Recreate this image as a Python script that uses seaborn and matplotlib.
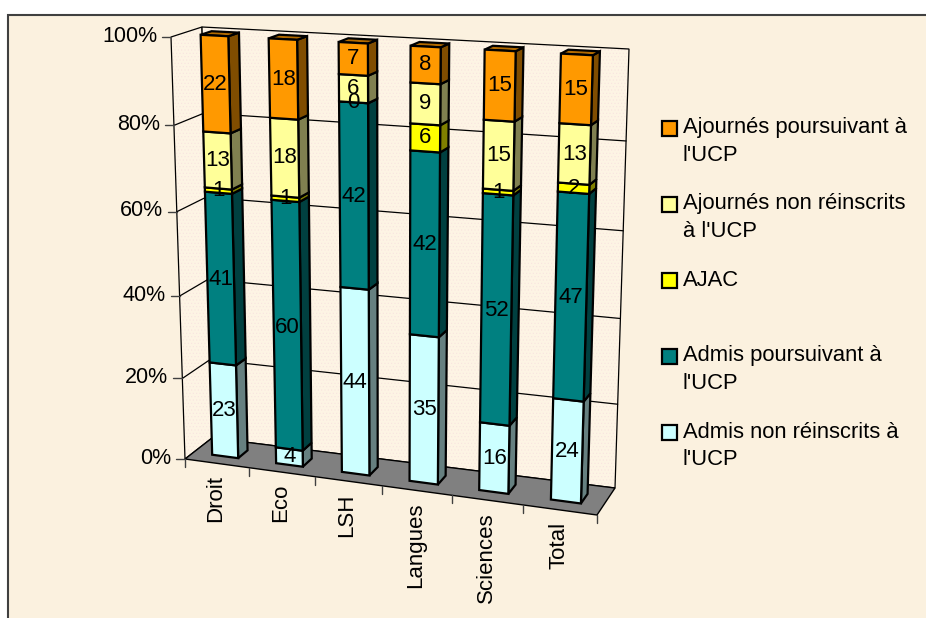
import numpy as np
import matplotlib
matplotlib.use('Agg')
from matplotlib import pyplot as plt
from matplotlib.patches import Polygon, Rectangle
from matplotlib.transforms import Affine2D, Transform
import seaborn as sns

categories = ['Droit', 'Eco', 'LSH', 'Langues', 'Sciences', 'Total']
series_names = ['Admis non réinscrits à\nl\'UCP', 'Admis poursuivant à\nl\'UCP', 'AJAC',
                'Ajournés non réinscrits\nà l\'UCP', 'Ajournés poursuivant à\nl\'UCP']
admis_non = [23, 4, 44, 35, 16, 24]
admis_pours = [41, 60, 42, 42, 52, 47]
ajac = [1, 1, 0, 6, 1, 2]
ajournes_non = [13, 18, 6, 9, 15, 13]
ajournes_pours = [22, 18, 7, 8, 15, 15]
y_ticks = [0, 20, 40, 60, 80, 100]

series_values = [admis_non, admis_pours, ajac, ajournes_non, ajournes_pours]
colors = ['#CCFFFF', '#008080', '#FFFF00', '#FFFF99', '#FF9900']
side_colors = ['#668080', '#004040', '#808000', '#808050', '#804D00']
top_colors = ['#8FB3B3', '#005A5A', '#B3B300', '#B3B36B', '#B36B00']

W, H = 926, 618
BAR_WIDTH = 0.41
FRONT, BACK = 0.32, 0.68
PERSP_X = 1.09
PERSP_Y = 1.06

# box corners in picture pixels (left/right, bottom/top, front/back)
LBF, RBF, LBB, RBB = (185, 459), (597, 515), (212, 438), (615, 488)
LTF, RTF, LTB, RTB = (171, 37), (610, 60), (202, 27), (629, 49)


def project(x, v, w):
    # x = category position, v = percent, w = depth 0..1, gives picture pixels
    x, v, w = np.asarray(x, float), np.asarray(v, float), np.asarray(w, float)
    u = (x + 0.5) / len(categories)
    f = u / (u + (1 - u) * PERSP_X)
    t = v / 100
    t = t / (t + (1 - t) * PERSP_Y)
    out = []
    for k in range(2):
        bf = LBF[k] + (RBF[k] - LBF[k]) * f
        bb = LBB[k] + (RBB[k] - LBB[k]) * f
        tf = LTF[k] + (RTF[k] - LTF[k]) * f
        tb = LTB[k] + (RTB[k] - LTB[k]) * f
        front = bf + (tf - bf) * t
        back = bb + (tb - bb) * t
        out.append(front + (back - front) * w)
    return np.stack(out, axis=-1)


class DepthTransform(Transform):
    input_dims = 2
    output_dims = 2
    is_separable = False
    has_inverse = False

    def __init__(self, w):
        super().__init__()
        self.w = w

    def transform_non_affine(self, values):
        values = np.asarray(values)
        return project(values[:, 0], values[:, 1], self.w)


sns.set_theme(style='white')
plt.rcParams['font.family'] = ['Liberation Sans', 'DejaVu Sans']
plt.rcParams['hatch.linewidth'] = 0.4
FS = 16

fig = plt.figure(figsize=(W / 100, H / 100), dpi=100, facecolor='white')
ax = fig.add_axes([0, 0, 1, 1])
to_px = Affine2D().scale(1 / W, -1 / H).translate(0, 1) + fig.transFigure

# page background and frame
ax.add_patch(Rectangle((8, 15), W, H, facecolor='#FBF1DF', edgecolor='#404040', lw=1.5,
                       transform=to_px, clip_on=False, zorder=0))

# walls and floor
for pts in ([LBF, LTF, LTB, LBB], [LBB, LTB, RTB, RBB]):
    ax.add_patch(Polygon(pts, closed=True, facecolor='#FDF4E4', edgecolor='#F8E4E0', hatch='.....',
                         lw=0, transform=to_px, clip_on=False, zorder=1))
    ax.add_patch(Polygon(pts, closed=True, fill=False, edgecolor='black', lw=0.9,
                         transform=to_px, clip_on=False, zorder=1))
ax.add_patch(Polygon([LBF, RBF, RBB, LBB], closed=True, facecolor='#808080', edgecolor='black', lw=1,
                     transform=to_px, clip_on=False, zorder=1))

n = len(categories)
for v in y_ticks:
    a, b, c = project(-0.5, v, 0), project(-0.5, v, 1), project(n - 0.5, v, 1)
    if 0 < v < 100:
        ax.plot([a[0], b[0], c[0]], [a[1], b[1], c[1]], color='black', lw=0.9,
                transform=to_px, clip_on=False, zorder=1)
    ax.plot([a[0] - 9, a[0]], [a[1], a[1]], color='#404040', lw=1, transform=to_px, clip_on=False, zorder=1)
    ax.text(a[0] - 14, a[1] - 1, f'{v}%', ha='right', va='center', fontsize=15.5, color='black',
            transform=to_px)

for i in range(n + 1):
    p = project(i - 0.5, 0, 0)
    ax.plot([p[0], p[0]], [p[1], p[1] + 8], color='#404040', lw=1, transform=to_px, clip_on=False, zorder=1)

for i, cat in enumerate(categories):
    p = project(i, 0, 0)
    ax.text(p[0] - 1, p[1] + 12, cat, rotation=90, ha='center', va='top', fontsize=FS, color='black',
            transform=to_px)

# stacked bars, scaled to 100% like the source chart
table = np.array(series_values, float)
shares = table / table.sum(axis=0) * 100
bottoms = np.zeros(n)
hw = BAR_WIDTH / 2
for s in range(len(series_values)):
    done = len(ax.patches)
    sns.barplot(x=categories, y=shares[s], bottom=bottoms, color=colors[s], saturation=1, width=BAR_WIDTH,
                errorbar=None, edgecolor='black', linewidth=1.6, ax=ax, zorder=4)
    for bar in ax.patches[done:]:
        bar.set_transform(DepthTransform(FRONT) + to_px)
        bar.set_clip_on(False)
    for i in range(n):
        lo, hi = bottoms[i], bottoms[i] + shares[s][i]
        side = project([i + hw, i + hw, i + hw, i + hw], [lo, lo, hi, hi], [FRONT, BACK, BACK, FRONT])
        ax.add_patch(Polygon(side, closed=True, facecolor=side_colors[s], edgecolor='black', lw=1.6,
                             transform=to_px, clip_on=False, zorder=3))
        if s == len(series_values) - 1:
            top = project([i - hw, i + hw, i + hw, i - hw], [hi] * 4, [FRONT, FRONT, BACK, BACK])
            ax.add_patch(Polygon(top, closed=True, facecolor=top_colors[s], edgecolor='black', lw=1.6,
                                 transform=to_px, clip_on=False, zorder=3))
        mid = project(i, (lo + hi) / 2, FRONT)
        ax.text(mid[0], mid[1], str(series_values[s][i]), ha='center', va='center', fontsize=FS,
                color='black', transform=to_px, zorder=6)
    bottoms = bottoms + shares[s]

ax.axis('off')

# legend, top entry is the last series
for row, s in enumerate(reversed(range(len(series_names)))):
    y = 128 + 76 * row
    ax.add_patch(Rectangle((662, y - 7.5), 15, 15, facecolor=colors[s], edgecolor='black', lw=1.6,
                           transform=to_px, clip_on=False, zorder=5))
    ax.text(683, y - 10.5, series_names[s], ha='left', va='top', fontsize=15.8, color='black',
            linespacing=1.4, transform=to_px)

fig.savefig('out.png', dpi=100, facecolor='white')
